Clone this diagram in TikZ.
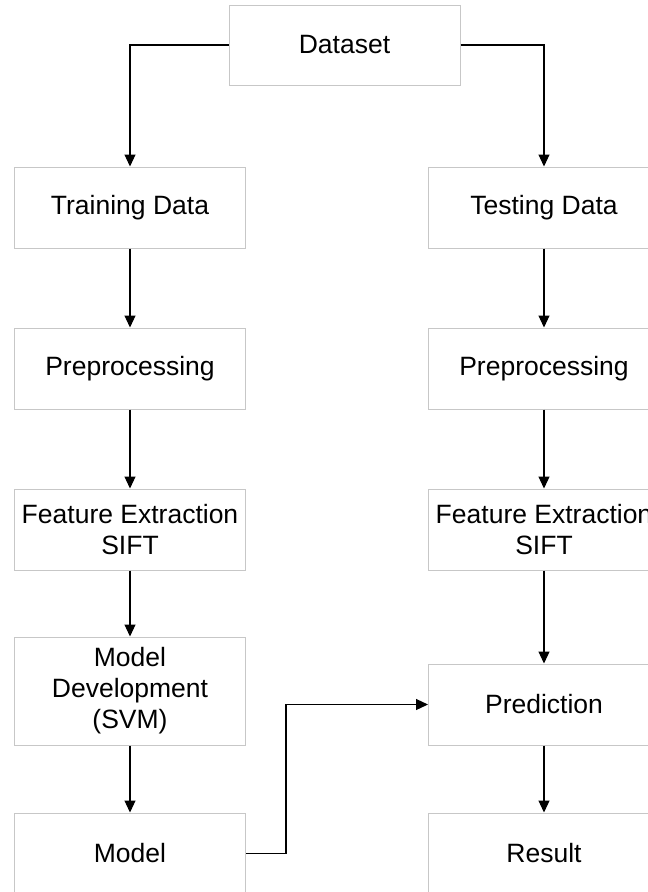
\documentclass[tikz,border=0pt]{standalone}
\usepackage{fontspec}
\setmainfont{Liberation Sans}
\usetikzlibrary{arrows.meta}
\begin{document}
\begin{tikzpicture}[x=1pt,y=-1pt,
  box/.style={draw=black!22, line width=1pt, rectangle, minimum width=231pt, align=center, inner sep=0pt,
    font=\fontsize{26.5}{31}\selectfont},
  arr/.style={draw=black, line width=1.2pt, -{Triangle[width=11pt,length=12pt]}},
  ln/.style={draw=black, line width=1.2pt}]
\useasboundingbox[fill=white] (0,0) rectangle (648,892);
\node[box, minimum height=80pt] (ds) at (344.5,45) {Dataset};
\node[box, minimum height=81pt] (train) at (130,207.5) {Training Data};
\node[box, minimum height=81pt] (test) at (544,207.5) {Testing Data};
\node[box, minimum height=81pt] (pre1) at (130,368.5) {Preprocessing};
\node[box, minimum height=81pt] (pre2) at (544,368.5) {Preprocessing};
\node[box, minimum height=81pt] (fe1) at (130,529.5) {Feature Extraction\\SIFT};
\node[box, minimum height=81pt] (fe2) at (544,529.5) {Feature Extraction\\SIFT};
\node[box, minimum height=108pt] (dev) at (130,691) {Model\\Development\\(SVM)};
\node[box, minimum height=81pt] (pred) at (544,704.5) {Prediction};
\node[box, minimum height=81pt] (model) at (130,853.5) {Model};
\node[box, minimum height=81pt] (res) at (544,853.5) {Result};
\draw[arr] (ds.west) -| (train.north);
\draw[arr] (ds.east) -| (test.north);
\draw[arr] (train) -- (pre1);
\draw[arr] (test) -- (pre2);
\draw[arr] (pre1) -- (fe1);
\draw[arr] (pre2) -- (fe2);
\draw[arr] (fe1) -- (dev);
\draw[arr] (fe2) -- (pred);
\draw[arr] (dev) -- (model);
\draw[arr] (pred) -- (res);
\coordinate (turn) at ([xshift=40pt]model.east);
\draw[arr] (model.east) -- (turn) |- (pred.west);
\end{tikzpicture}
\end{document}
